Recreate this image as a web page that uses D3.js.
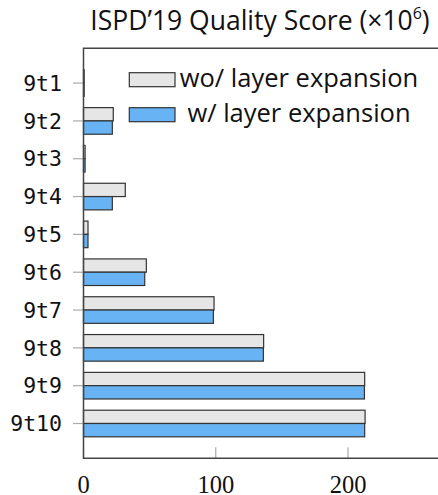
<!DOCTYPE html>
<html><head><meta charset="utf-8">
<script src="https://cdn.jsdelivr.net/npm/d3@7"></script>
<style>body{margin:0;background:#fff}</style>
</head><body>
<svg id="c" width="438" height="495"></svg>
<script>
const categories = ["9t1","9t2","9t3","9t4","9t5","9t6","9t7","9t8","9t9","9t10"];
const seriesNames = ["wo/ layer expansion","w/ layer expansion"];
const woValues = [0.5, 22.5, 1.2, 31.6, 3.4, 47.5, 98.7, 136.2, 212.6, 212.9];
const wValues  = [0.5, 21.8, 1.2, 21.8, 3.4, 46.3, 98.2, 136.0, 212.4, 212.6];
const xTicks = [0, 100, 200];
const xMax = 270;
const title = "ISPD\u201919 Quality Score (\u00d710";
const titleSup = "6";

(function () {
const svg = d3.select("#c");
const pLeft = 83.5, pTop = 48.3, pBottom = 458.3, pRight = 440.6;
const x = d3.scaleLinear().domain([0, xMax]).range([pLeft, pRight]);
const y = d3.scalePoint().domain(categories).range([pTop, pBottom]).padding(0.92);
const barH = 13.3;
const colors = ["#e6e6e6", "#67b3f3"];
const sans = "'Open Sans', 'Noto Sans', sans-serif";

// bars
const series = [woValues, wValues];
series.forEach((vals, si) => {
  svg.append("g").selectAll("rect").data(categories).join("rect")
    .attr("x", x(0))
    .attr("y", (d) => si === 0 ? y(d) - barH : y(d))
    .attr("width", (d, i) => x(vals[i]) - x(0))
    .attr("height", barH)
    .attr("fill", colors[si])
    .attr("stroke", "#333")
    .attr("stroke-width", 1.2);
});

// y axis ticks and labels
const ya = svg.append("g");
ya.selectAll("line").data(categories).join("line")
  .attr("x1", pLeft - 10.5).attr("x2", pLeft)
  .attr("y1", d => y(d)).attr("y2", d => y(d))
  .attr("stroke", "#aaa").attr("stroke-width", 1.2);
ya.selectAll("text").data(categories).join("text")
  .attr("x", 62).attr("y", d => y(d)).attr("dy", "0.36em")
  .attr("text-anchor", "end")
  .attr("font-family", "'DejaVu Sans Mono', monospace")
  .attr("font-size", 21.5).attr("fill", "#111")
  .text(d => d);

// x axis ticks (inward) and labels
const xa = svg.append("g");
xa.selectAll("line").data(xTicks).join("line")
  .attr("x1", d => x(d)).attr("x2", d => x(d))
  .attr("y1", pBottom - 11).attr("y2", pBottom)
  .attr("stroke", "#aaa").attr("stroke-width", 1.2);
xa.selectAll("text").data(xTicks).join("text")
  .attr("x", d => x(d)).attr("y", 493)
  .attr("text-anchor", "middle")
  .attr("font-family", "'Liberation Serif', serif")
  .attr("font-size", 24.5).attr("fill", "#111")
  .text(d => d);

// axis frame: left, top, bottom
svg.append("path")
  .attr("d", `M${pRight + 5},${pTop}H${pLeft}V${pBottom}H${pRight + 5}`)
  .attr("fill", "none").attr("stroke", "#444").attr("stroke-width", 1.5);

// title
const t = svg.append("text").attr("x", 260).attr("y", 30)
  .attr("text-anchor", "middle").attr("font-family", sans)
  .attr("font-size", 26.5).attr("fill", "#111");
t.append("tspan").text(title);
t.append("tspan").attr("font-size", 16).attr("dy", -11).text(titleSup);
t.append("tspan").attr("dy", 11).text(")");

// legend
const lg = svg.append("g");
const legY = [72.7, 107.7];
const legBase = [87, 122];
seriesNames.forEach((name, i) => {
  lg.append("rect").attr("x", 129.3).attr("y", legY[i]).attr("width", 45.7).attr("height", 14)
    .attr("fill", colors[i]).attr("stroke", "#333").attr("stroke-width", 1.2);
  lg.append("text").attr("x", 299).attr("y", legBase[i])
    .attr("text-anchor", "middle").attr("font-family", sans)
    .attr("font-size", 25.5).attr("fill", "#111").text(name);
});
})();
</script>
</body></html>
